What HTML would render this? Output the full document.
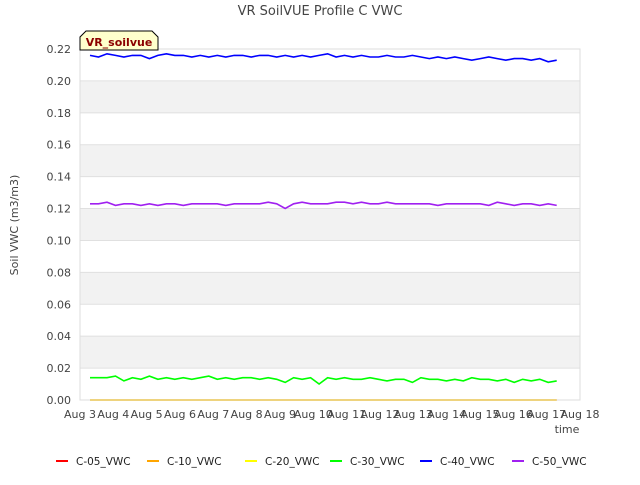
<!DOCTYPE html>
<html><head><meta charset="utf-8"><style>
body{margin:0;background:#fff;font-family:"Liberation Sans","DejaVu Sans",sans-serif}
svg text{font-family:"DejaVu Sans","Liberation Sans",sans-serif}
</style></head><body>
<svg id="c" width="640" height="480" xmlns="http://www.w3.org/2000/svg">
<text x="320" y="15" text-anchor="middle" font-size="13" fill="#444">VR SoilVUE Profile C VWC</text>
<g id="grid"></g><g id="series"></g><g id="axes"></g>
<text transform="translate(18,225) rotate(-90)" text-anchor="middle" font-size="11" fill="#444">Soil VWC (m3/m3)</text>
<text x="567" y="433" text-anchor="middle" font-size="11" fill="#444">time</text>
<g><path d="M80,50 L80,37 L86,31 L152,31 L158,37 L158,50 Z" fill="#ffffcc" stroke="#000" stroke-width="1"/><text x="119" y="46" text-anchor="middle" font-size="11" font-weight="bold" fill="#8b0000">VR_soilvue</text></g>
<g id="legend"></g>
</svg>
<script>
const yTicks=[0,0.02,0.04,0.06,0.08,0.10,0.12,0.14,0.16,0.18,0.20,0.22];
const xTicks=[3,4,5,6,7,8,9,10,11,12,13,14,15,16,17,18];
const tStart=3.3, tEnd=17.3;
const c40=[0.216,0.215,0.217,0.216,0.215,0.216,0.216,0.214,0.216,0.217,0.216,0.216,0.215,0.216,0.215,0.216,0.215,0.216,0.216,0.215,0.216,0.216,0.215,0.216,0.215,0.216,0.215,0.216,0.217,0.215,0.216,0.215,0.216,0.215,0.215,0.216,0.215,0.215,0.216,0.215,0.214,0.215,0.214,0.215,0.214,0.213,0.214,0.215,0.214,0.213,0.214,0.214,0.213,0.214,0.212,0.213];
const c50=[0.123,0.123,0.124,0.122,0.123,0.123,0.122,0.123,0.122,0.123,0.123,0.122,0.123,0.123,0.123,0.123,0.122,0.123,0.123,0.123,0.123,0.124,0.123,0.120,0.123,0.124,0.123,0.123,0.123,0.124,0.124,0.123,0.124,0.123,0.123,0.124,0.123,0.123,0.123,0.123,0.123,0.122,0.123,0.123,0.123,0.123,0.123,0.122,0.124,0.123,0.122,0.123,0.123,0.122,0.123,0.122];
const c30=[0.014,0.014,0.014,0.015,0.012,0.014,0.013,0.015,0.013,0.014,0.013,0.014,0.013,0.014,0.015,0.013,0.014,0.013,0.014,0.014,0.013,0.014,0.013,0.011,0.014,0.013,0.014,0.010,0.014,0.013,0.014,0.013,0.013,0.014,0.013,0.012,0.013,0.013,0.011,0.014,0.013,0.013,0.012,0.013,0.012,0.014,0.013,0.013,0.012,0.013,0.011,0.013,0.012,0.013,0.011,0.012];
const c20=c30.map(()=>0);
const series=[["C-05_VWC","#ff0000",c20],["C-10_VWC","#ffa500",c20],["C-20_VWC","#ffff00",c20],["C-30_VWC","#00ff00",c30],["C-40_VWC","#0000ff",c40],["C-50_VWC","#a020f0",c50]];
const X=t=>80+(t-3)*500/15, Y=v=>400-v/0.22*351;
const NS="http://www.w3.org/2000/svg";
function mk(p,tag,a,txt){const e=document.createElementNS(NS,tag);for(const k in a)e.setAttribute(k,a[k]);if(txt!=null)e.textContent=txt;p.appendChild(e);return e;}
const g=document.getElementById('grid'),ax=document.getElementById('axes'),sg=document.getElementById('series'),lg=document.getElementById('legend');
for(let i=0;i<yTicks.length-1;i++){if(i%2===1){const r=mk(g,'rect',{x:80,y:Y(yTicks[i+1]),width:500,height:Y(yTicks[i])-Y(yTicks[i+1]),fill:'#f2f2f2'});

}}
yTicks.forEach(v=>{const l=mk(g,'line',{x1:80,x2:580,y1:Y(v),y2:Y(v),stroke:'#e0e0e0'});


const t=mk(ax,'text',{x:71,y:Y(v)+4,'text-anchor':'end','font-size':11,fill:'#444'},v.toFixed(2));

});
const fr=mk(ax,'rect',{x:80,y:49,width:500,height:351,fill:'none',stroke:'#ddd'});


xTicks.forEach(d=>{const t=mk(ax,'text',{x:X(d),y:418,'text-anchor':'middle','font-size':11,fill:'#444'},'Aug '+d);

});
series.forEach(([n,col,arr],i)=>{const step=(tEnd-tStart)/(arr.length-1);
const pts=arr.map((v,j)=>X(tStart+j*step).toFixed(1)+','+Y(v).toFixed(1)).join(' ');
const p=mk(sg,'polyline',{points:pts,fill:'none',stroke:col,'stroke-width':1.6});


const lx=[56,147,245,330,420,512][i];
const e=mk(lg,'g',{});


mk(e,'line',{x1:lx,x2:lx+12,y1:461,y2:461,stroke:col,'stroke-width':2});
mk(e,'text',{x:lx+20,y:465,'font-size':10.5,fill:'#222'},n);});
</script>
</body></html>
